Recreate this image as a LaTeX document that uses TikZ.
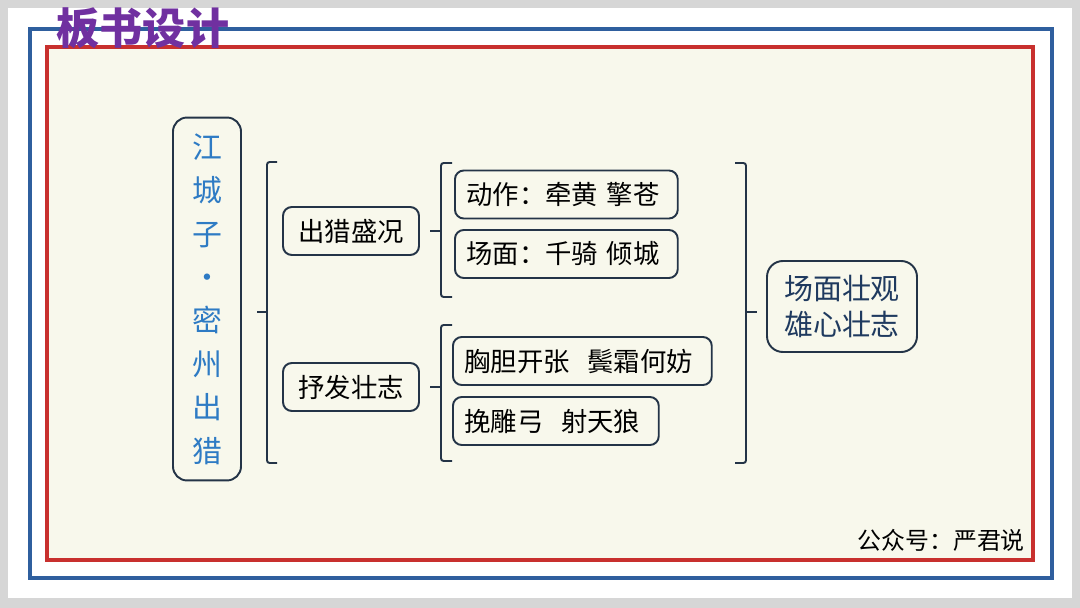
\documentclass[tikz,border=0pt]{standalone}
\usepackage{fontspec}
\usepackage{xcolor}
\usepackage{tikz}
\usetikzlibrary{positioning,calc}
\setmainfont{Noto Sans CJK SC}
\newfontfamily\cjk{Noto Sans CJK SC}
\definecolor{pageGray}{HTML}{D6D6D6}
\definecolor{frameBlue}{HTML}{2F5F9E}
\definecolor{frameRed}{HTML}{C8302E}
\definecolor{boardCream}{HTML}{F8F8EC}
\definecolor{titlePurple}{HTML}{7030A0}
\definecolor{poemBlue}{HTML}{2E7BC4}
\definecolor{sumNavy}{HTML}{1F3A5F}
\definecolor{boxLine}{HTML}{243447}

\begin{document}
\begin{tikzpicture}[x=0.02cm, y=-0.02cm, font=\cjk,
  box/.style={draw=boxLine, line width=1.1pt, rounded corners=5pt, inner sep=0pt,
    minimum height=0.96cm, font=\cjk\fontsize{15}{17}\selectfont},
  leaf/.style={box, anchor=west, align=left, inner xsep=6.5pt},
  brace/.style={draw=boxLine, line width=1.1pt, rounded corners=1.5pt}]
\useasboundingbox (0,0) rectangle (1080,608);
% page and frames
\fill[pageGray] (0,0) rectangle (1080,608);
\fill[white] (8,8) rectangle (1072,598);
\draw[frameBlue, line width=2.3pt] (30,29) rectangle (1052,578);
\draw[frameRed, line width=2.3pt, fill=boardCream] (47,47) rectangle (1033,560);
\node[titlePurple, font=\cjk\bfseries\fontsize{24.5}{26}\selectfont] (title) at (143,28) {板书设计};
% title of the poem
\node[box, rounded corners=8pt, minimum width=1.36cm, minimum height=7.26cm, align=center,
  text=poemBlue, font=\cjk\fontsize{17}{24.7}\selectfont] (poem) at (207,299)
  {江\\城\\子\\·\\密\\州\\出\\猎};
% first level
\node[box, minimum width=2.72cm] (hunt) at (351,231) {出猎盛况};
\node[box, minimum width=2.72cm] (will) at (351,387) {抒发壮志};
% second level
\node[leaf, text width=4.0cm] (act) at (454,194.5) {动作：牵黄\ 擎苍};
\node[leaf, text width=4.0cm] (scene) at (454,254) {场面：千骑\ 倾城};
\node[leaf, text width=4.72cm] (heart) at (452,361) {胸胆开张\ \ 鬓霜何妨};
\node[leaf, text width=3.66cm] (bow) at (452,421) {挽雕弓\ \ 射天狼};
% summary
\node[box, rounded corners=9pt, minimum width=3cm, minimum height=1.82cm, align=center,
  text=sumNavy, font=\cjk\fontsize{16.5}{20}\selectfont] (sum) at (842,306.5) {场面壮观\\雄心壮志};
% brackets
\coordinate (b1) at (257,312);
\draw[brace] (277,162) -- (267,162) -- (267,463) -- (277,463);
\draw[brace] (267,312) -- (b1);
\coordinate (b2) at (430,231);
\draw[brace] (452,163) -- (441,163) -- (441,297) -- (452,297);
\draw[brace] (441,231) -- (b2);
\coordinate (b3) at (430,387);
\draw[brace] (452,325) -- (441,325) -- (441,461) -- (452,461);
\draw[brace] (441,387) -- (b3);
\coordinate (b4) at (757,312);
\draw[brace] (735,163) -- (746,163) -- (746,463) -- (735,463);
\draw[brace] (746,312) -- (b4);
% watermark
\node[anchor=east, font=\cjk\fontsize{13.6}{15}\selectfont] (mark) at (1031,540) {公众号：严君说};
\end{tikzpicture}
\end{document}
